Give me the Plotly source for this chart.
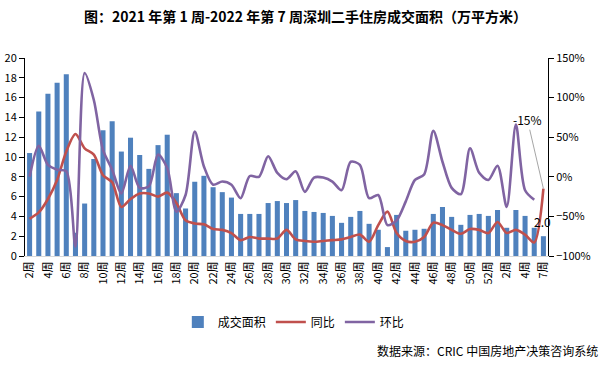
import plotly.graph_objects as go

weeks = [f"{w}周" for w in range(2, 53)] + ["1周", "2周", "3周", "4周", "5周", "7周"]

area = [10.4, 14.6, 16.4, 17.5, 18.35, 2.35, 5.3, 9.8, 12.7, 13.6,
        10.55, 11.95, 10.2, 8.8, 11.2, 12.25, 6.35, 4.8, 7.5, 8.1,
        6.95, 6.45, 5.9, 4.25, 4.25, 4.25, 5.35, 5.55, 5.35, 5.65,
        4.55, 4.45, 4.35, 4.05, 3.35, 3.95, 4.55, 3.25, 2.65, 0.9,
        4.15, 2.55, 2.65, 2.75, 4.25, 4.95, 3.95, 3.15, 4.15, 4.25,
        4.05, 4.65, 2.85, 4.65, 4.05, 2.85, 2.0]

yoy = [-53, -45, -28, -4, 32, 54, 36, 28, 2, -7,
       -38, -28, -21, -21, -25, -20, -33, -55, -59, -60,
       -66, -67, -71, -80, -76, -78, -78, -78, -67, -79,
       -81, -82, -81, -80, -79, -76, -73, -82, -61, -44,
       -71, -81, -82, -76, -58, -61, -67, -72, -66, -67,
       -71, -57, -71, -67, -73, -83, -15]

mom = [0, 39, 15, 9, 7, -88, 131, 97, 34, 9,
       -21, 14, -14, -12, 28, 11, -44, -23, 57, 13,
       -10, -6, -10, -27, 1, 0, 26, 5, -3, 7,
       -19, -1, -1, -6, -17, 19, 15, -27, -23, -61,
       -55, -31, -4, 3, 58, 19, -14, -22, 36, 5,
       -4, 14, -38, 66, -17, -29, None]

idx = list(range(len(weeks)))
tick_idx = list(range(0, 51, 2)) + [52, 54, 56]
tick_txt = [weeks[i] for i in tick_idx]

BLUE = "#4F81BD"
RED = "#C0504D"
PURPLE = "#8064A2"
FONT = "Noto Sans CJK SC"

fig = go.Figure()
fig.add_trace(go.Bar(x=idx, y=area, name="成交面积", marker_color=BLUE,
                     marker_line_width=0))
fig.add_trace(go.Scatter(x=idx, y=yoy, name="同比", yaxis="y2", mode="lines",
                         line=dict(color=RED, width=2.6, shape="spline", smoothing=0.8)))
fig.add_trace(go.Scatter(x=idx, y=mom, name="环比", yaxis="y2", mode="lines",
                         line=dict(color=PURPLE, width=2.6, shape="spline", smoothing=0.8)))

last = len(weeks) - 1
fig.add_annotation(x=last, y=area[last], text=f"{area[last]:.1f}", showarrow=False,
                   yshift=15, xshift=-1, font=dict(size=12, color="black", family=FONT))
fig.add_annotation(x=last, y=yoy[last], yref="y2", text=f"{yoy[last]}%",
                   showarrow=True, arrowhead=0, arrowwidth=1, arrowcolor="#A6A6A6",
                   ax=-16, ay=-69, font=dict(size=12, color="black", family=FONT))

fig.add_annotation(xref="paper", yref="paper", x=1.0994, y=-0.475, xanchor="right",
                   yanchor="middle", showarrow=False,
                   text="数据来源：CRIC 中国房地产决策咨询系统",
                   font=dict(size=12, color="black", family=FONT))

fig.update_layout(
    width=611, height=367,
    margin=dict(l=25, r=63, t=58, b=111),
    paper_bgcolor="white", plot_bgcolor="white",
    title=dict(text="<b>图：2021 年第 1 周-2022 年第 7 周深圳二手住房成交面积（万平方米）</b>",
               x=0.5, xanchor="center", y=0.953, yanchor="middle",
               font=dict(size=14, color="black", family=FONT)),
    font=dict(family=FONT, size=11, color="black"),
    bargap=0.45,
    showlegend=True,
    legend=dict(orientation="h", x=0.514, xanchor="center", y=-0.333, yanchor="middle",
                font=dict(size=12, family=FONT), itemwidth=30,
                bgcolor="rgba(0,0,0,0)", tracegroupgap=0),
    xaxis=dict(range=[-0.5, last + 0.5], tickmode="array", tickvals=tick_idx,
               ticktext=tick_txt, tickangle=-90, showgrid=False, zeroline=False,
               showline=True, linecolor="#D9D9D9", linewidth=1, ticks="",
               automargin=False, tickfont=dict(size=11, family=FONT)),
    yaxis=dict(range=[0, 20], dtick=2, showgrid=False, zeroline=False, showline=True,
               linecolor="black", linewidth=1, ticks="outside", ticklen=5,
               automargin=False, tickcolor="black", tickfont=dict(size=11, family=FONT)),
    yaxis2=dict(range=[-100, 150], dtick=50, overlaying="y", side="right",
                showgrid=False, zeroline=False, showline=True, linecolor="black",
                linewidth=1, ticks="outside", ticklen=5, tickcolor="black",
                automargin=False, ticksuffix="%", tickfont=dict(size=11, family=FONT)),
)

fig.write_html("out.html", config={"displayModeBar": False},
               post_script="document.body.style.margin='0';document.body.style.overflow='hidden';")
